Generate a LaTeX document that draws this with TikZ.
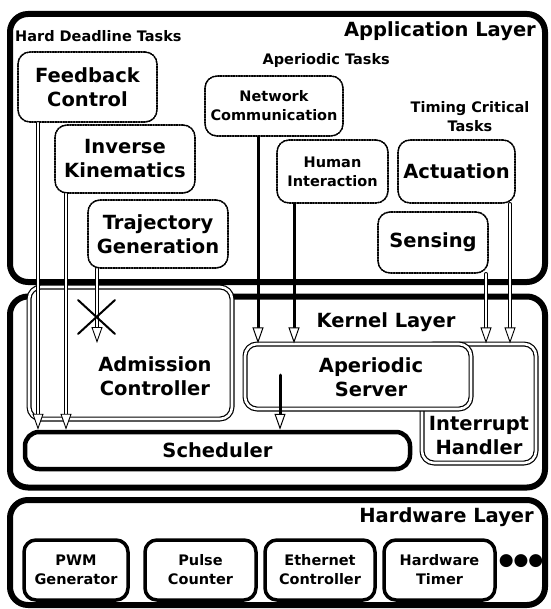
\documentclass[tikz,border=0pt]{standalone}
\usepackage{fontspec}
\setmainfont{DejaVu Sans}
\usetikzlibrary{arrows.meta}

\begin{document}
\begin{tikzpicture}[x=1pt, y=-1pt, line cap=round, line join=round,
		layerbox/.style={draw, line width=6pt, rounded corners=18pt},
		taskbox/.style={draw, densely dotted, line width=1.6pt, rounded corners=12pt, fill=white, align=center},
		kernbox/.style={draw, line width=1.2pt, double=white, double distance=2.6pt, rounded corners=12pt, fill=white},
		schedbox/.style={draw, line width=4.5pt, rounded corners=14pt, fill=white},
		hwbox/.style={draw, line width=3.5pt, rounded corners=12pt, fill=white, align=center},
		bigfont/.style={font=\bfseries\fontsize{19.5}{24}\selectfont},
		smallfont/.style={font=\bfseries\fontsize{14.5}{19}\selectfont},
		hollowarrow/.style={line width=0.9pt, double=white, double distance=1.8pt, -{Triangle[length=16pt, width=11pt, fill=white]}},
		solidarrow/.style={line width=3pt, -{Triangle[length=16pt, width=11pt, fill=white, line width=1pt]}}]
	\useasboundingbox (0,0) rectangle (550,609);
	% layers
	\node[layerbox, minimum width=535, minimum height=268] (app) at (277.5,148) {};
	\node[layerbox, minimum width=535, minimum height=191] (kern) at (277.5,392) {};
	\node[layerbox, minimum width=535, minimum height=105] (hw) at (277.5,552.5) {};
	% layer titles
	\node[bigfont, anchor=base east, inner sep=0] (apptitle) at (536,37) {Application Layer};
	\node[bigfont, anchor=base, inner sep=0] (kerntitle) at (386,327) {Kernel Layer};
	\node[bigfont, anchor=base east, inner sep=0] (hwtitle) at (534,522) {Hardware Layer};
	% task groups
	\node[smallfont, anchor=base west, inner sep=0] (hardtag) at (15,42) {Hard Deadline Tasks};
	\node[smallfont, anchor=base east, inner sep=0] (apertag) at (390,65) {Aperiodic Tasks};
	\node[smallfont, align=center, inner sep=0] (timetag) at (470,117) {Timing Critical\\Tasks};
	% tasks
	\node[taskbox, bigfont, minimum width=139, minimum height=70] (fc) at (87.5,87) {Feedback\\Control};
	\node[taskbox, bigfont, minimum width=140, minimum height=68] (ik) at (125,159) {Inverse\\Kinematics};
	\node[taskbox, bigfont, minimum width=140, minimum height=68] (tg) at (158,234) {Trajectory\\Generation};
	\node[taskbox, smallfont, minimum width=138, minimum height=60] (nc) at (274,106) {Network\\Communication};
	\node[taskbox, smallfont, minimum width=111, minimum height=63] (hi) at (332.5,171.5) {Human\\Interaction};
	\node[taskbox, bigfont, minimum width=117, minimum height=63] (act) at (456.5,171.5) {Actuation};
	\node[taskbox, bigfont, minimum width=110, minimum height=61] (sen) at (433,242.5) {Sensing};
	% kernel
	\node[kernbox, minimum width=203, minimum height=132] (adm) at (130.5,353) {};
	\node[bigfont, align=center] (admtxt) at (155,376) {Admission\\Controller};
	\node[kernbox, minimum width=114, minimum height=119] (ih) at (479,403.5) {};
	\node[kernbox, minimum width=226, minimum height=65] (as) at (358,376.5) {};
	\node[bigfont, align=center] (astxt) at (371,377) {Aperiodic\\Server};
	\node[bigfont, align=center] (ihtxt) at (479,436) {Interrupt\\Handler};
	\node[schedbox, bigfont, minimum width=385, minimum height=37] (sched) at (217.5,450.5) {Scheduler};
	% hardware
	\node[hwbox, smallfont, minimum width=104, minimum height=60] (pwm) at (76,570) {PWM\\Generator};
	\node[hwbox, smallfont, minimum width=111, minimum height=60] (pulse) at (200.5,570) {Pulse\\Counter};
	\node[hwbox, smallfont, minimum width=110, minimum height=60] (eth) at (320,570) {Ethernet\\Controller};
	\node[hwbox, smallfont, minimum width=111, minimum height=60] (timer) at (439.5,570) {Hardware\\Timer};
	\node[font=\fontsize{17}{17}\selectfont, inner sep=0] (dots) at (521,561) {●●●};
	% arrows
	\coordinate (fcx) at (38,0);
	\coordinate (ikx) at (66,0);
	\coordinate (tgx) at (97,0);
	\coordinate (tgend) at (97,343);
	\coordinate (ncx) at (258,0);
	\coordinate (hix) at (294,0);
	\coordinate (asx) at (280,375);
	\coordinate (senx) at (486,0);
	\coordinate (actx) at (510,0);
	\draw[hollowarrow] (fc.south -| fcx) -- (sched.north -| fcx);
	\draw[hollowarrow] (ik.south -| ikx) -- (sched.north -| ikx);
	\draw[hollowarrow] (tg.south -| tgx) -- (tgend);
	\draw[solidarrow] (nc.south -| ncx) -- (as.north -| ncx);
	\draw[solidarrow] (hi.south -| hix) -- (as.north -| hix);
	\draw[solidarrow] (asx) -- (sched.north -| asx);
	\draw[hollowarrow] (sen.south -| senx) -- (ih.north -| senx);
	\draw[hollowarrow] (act.south -| actx) -- (ih.north -| actx);
	% rejected
	\draw[line width=2pt] (78,300) -- (115,334);
	\draw[line width=2pt] (115,300) -- (78,334);
\end{tikzpicture}
\end{document}
